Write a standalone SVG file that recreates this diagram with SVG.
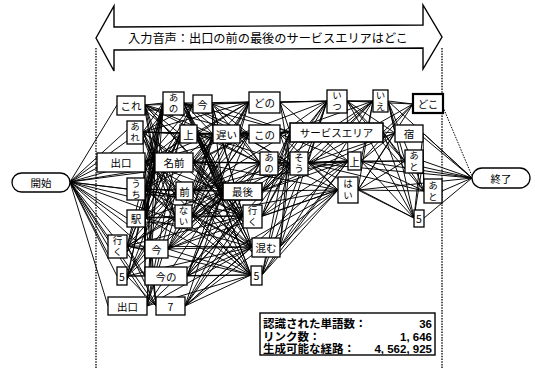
<svg xmlns="http://www.w3.org/2000/svg" width="535" height="372" viewBox="0 0 535 372">
<style>
.c{stroke:#000;stroke-width:0.95;fill:none}
.n rect{fill:#fff;stroke:#000;stroke-width:1.3}
.t{font-family:"Noto Sans CJK JP","Noto Sans CJK SC",sans-serif;font-size:10.5px;text-anchor:middle;dominant-baseline:central;fill:#000}
.v{font-size:9.5px;writing-mode:vertical-rl;letter-spacing:1.5px}
.d{stroke:#000;stroke-width:1.3;stroke-dasharray:1.5 1.2;fill:none}
.info{font-family:"Noto Sans CJK JP","Noto Sans CJK SC",sans-serif;font-size:11.5px;font-weight:bold;fill:#000}
.num{font-family:"Liberation Sans",sans-serif;font-size:11.5px;font-weight:bold;fill:#000;text-anchor:end}
</style>
<rect width="535" height="372" fill="#fff"/>
<g id="banner">
<path d="M96 38 L114 6 L114 27 L423 25 L423 5 L442 37 L423 69 L423 48 L114 50 L114 71 Z" fill="#fff" stroke="#000" stroke-width="1.4"/>
<text x="268" y="37.5" class="t" style="font-size:12.2px" textLength="280" lengthAdjust="spacing">入力音声：出口の前の最後のサービスエリアはどこ</text>
</g>
<g id="guides">
<line x1="96" y1="48" x2="96" y2="368" class="d"/>
<line x1="442" y1="48" x2="442" y2="368" class="d"/>
</g>
<g id="connectors" class="c">
<path d="M70 182L117 105M70 182L127 130M70 182L127 141M70 182L97 168M70 182L155 168M70 182L176 195M70 182L127 189M70 182L127 196M70 182L127 218M70 182L175 220M70 182L108 246M70 182L145 249M70 182L117 276M70 182L145 276M70 182L108 306M70 182L156 306M70 182L145 296M70 182L145 172M70 182L155 158M70 182L127 224M70 182L108 254"/>
<path d="M145 105L163 103M145 105L193 104M145 105L180 134M145 105L155 162M145 105L176 191M145 105L175 216M145 105L213 134M145 105L260 163M145 105L223 191M145 105L243 216M145 105L249 134M145 110L163 110M145 110L155 170M145 110L180 140"/>
<path d="M143 132L163 103M143 132L193 104M143 132L180 134M143 132L155 162M143 132L176 191M143 132L175 216M143 132L145 249M143 132L213 134M143 132L249 102M143 132L249 134M143 132L223 191M143 132L243 216M143 138L163 112M143 138L155 168M143 138L176 197"/>
<path d="M145 162L163 103M145 162L193 104M145 162L180 134M145 162L155 162M145 162L176 191M145 162L175 216M145 162L156 306M145 162L213 134M145 162L249 102M145 162L249 134M145 162L260 163M145 162L223 191M145 162L243 216M145 162L252 247M145 162L251 275M145 167L163 110M145 167L180 140M145 167L175 222M145 167L145 258"/>
<path d="M145 189L163 103M145 189L193 104M145 189L180 134M145 189L155 162M145 189L176 191M145 189L175 216M145 189L145 276M145 189L156 306M145 189L213 134M145 189L249 134M145 189L223 191M145 189L243 216M145 189L252 247M145 189L251 275M145 194L163 110M145 194L155 170M145 194L176 197M145 194L145 258"/>
<path d="M145 218L163 103M145 218L193 104M145 218L180 134M145 218L155 162M145 218L176 191M145 218L175 216M145 218L145 249M145 218L145 276M145 218L156 306M145 218L213 134M145 218L223 191M145 218L243 216M145 218L252 247M145 218L251 275M145 222L163 112M145 222L155 170M145 222L175 224"/>
<path d="M127 246L163 103M127 246L180 134M127 246L155 162M127 246L176 191M127 246L175 216M127 246L145 249M127 246L145 276M127 246L156 306M127 246L223 191M127 246L243 216M127 246L252 247M127 246L251 275M127 252L155 170M127 252L176 197"/>
<path d="M127 276L155 162M127 276L176 191M127 276L175 216M127 276L145 249M127 276L145 276M127 276L156 306M127 276L223 191M127 276L252 247M127 276L251 275M127 280L163 110M127 280L180 140"/>
<path d="M147 306L180 134M147 306L176 191M147 306L175 216M147 306L223 191M147 306L243 216M147 306L252 247M147 306L251 275M147 302L155 170M147 302L163 110"/>
<path d="M184 103L213 134M184 103L249 102M184 103L249 134M184 103L260 163M184 103L223 191M184 103L243 216M184 103L252 247M184 103L251 275M184 103L290 132M184 103L290 163M184 108L223 196M184 108L243 222"/>
<path d="M212 104L213 134M212 104L249 102M212 104L249 134M212 104L260 163M212 104L223 191M212 104L243 216M212 104L252 247M212 104L290 132M212 104L327 101"/>
<path d="M197 134L213 134M197 134L249 102M197 134L249 134M197 134L260 163M197 134L223 191M197 134L243 216M197 134L252 247M197 134L251 275M197 134L290 132M197 134L290 163M197 139L223 196M197 139L252 252"/>
<path d="M193 162L213 134M193 162L249 102M193 162L249 134M193 162L260 163M193 162L223 191M193 162L243 216M193 162L252 247M193 162L251 275M193 162L290 163M193 162L338 190M193 167L213 140M193 167L243 222"/>
<path d="M193 191L213 134M193 191L249 102M193 191L249 134M193 191L260 163M193 191L223 191M193 191L243 216M193 191L252 247M193 191L251 275M193 191L290 132M193 191L290 163M193 191L348 161M193 196L213 140M193 196L252 252"/>
<path d="M192 216L213 134M192 216L249 102M192 216L249 134M192 216L260 163M192 216L223 191M192 216L243 216M192 216L252 247M192 216L251 275M192 216L290 163M192 216L338 190M192 222L223 196M192 222L260 170"/>
<path d="M168 249L213 134M168 249L249 102M168 249L249 134M168 249L260 163M168 249L223 191M168 249L243 216M168 249L252 247M168 249L251 275M168 249L290 163M168 249L338 190"/>
<path d="M187 276L249 102M187 276L249 134M187 276L260 163M187 276L223 191M187 276L243 216M187 276L252 247M187 276L251 275M187 276L290 163M187 276L338 190"/>
<path d="M185 306L260 163M185 306L223 191M185 306L243 216M185 306L252 247M185 306L251 275M185 306L290 163M185 306L348 161M185 306L338 190"/>
<path d="M240 134L249 102M240 134L249 134M240 134L260 163M240 134L290 132M240 134L290 163M240 134L327 101"/>
<path d="M280 102L290 132M280 102L290 163M280 102L327 101M280 102L348 161M280 102L373 101"/>
<path d="M280 134L290 132M280 134L290 163M280 134L327 101M280 134L348 161M280 134L338 190M280 134L373 101"/>
<path d="M278 163L290 132M278 163L290 163M278 163L327 101M278 163L348 161M278 163L338 190M278 163L373 101"/>
<path d="M262 191L290 132M262 191L290 163M262 191L327 101M262 191L348 161M262 191L338 190M262 191L373 101M262 191L395 133"/>
<path d="M262 216L290 132M262 216L290 163M262 216L327 101M262 216L348 161M262 216L338 190M262 216L373 101"/>
<path d="M280 247L290 132M280 247L290 163M280 247L327 101M280 247L348 161M280 247L338 190"/>
<path d="M262 275L290 132M262 275L290 163M262 275L327 101M262 275L348 161M262 275L338 190M262 275L373 101"/>
<path d="M383 132L395 133M383 132L413 104M383 132L405 161M383 132L424 191M383 132L414 218"/>
<path d="M308 163L327 101M308 163L348 161M308 163L338 190M308 163L373 101M308 163L395 133M308 163L413 104M308 163L405 161M308 163L424 191M308 163L414 218M308 163L472 178"/>
<path d="M347 101L373 101M347 101L395 133M347 101L413 104M347 101L405 161M347 101L424 191M347 101L414 218M347 101L348 161"/>
<path d="M361 161L373 101M361 161L395 133M361 161L413 104M361 161L405 161M361 161L424 191M361 161L414 218M361 161L472 178"/>
<path d="M358 190L373 101M358 190L395 133M358 190L413 104M358 190L405 161M358 190L424 191M358 190L414 218M358 190L472 178"/>
<path d="M388 101L413 104M388 101L395 133M388 101L405 161M388 101L424 191M388 101L414 218M388 101L472 178"/>
<path d="M423 133L424 191M423 133L414 218M423 133L472 178M423 137L472 178"/>
<path d="M423 161L424 191M423 161L414 218M423 161L472 178M423 167L472 178"/>
<path d="M442 191L472 178M424 218L472 178"/>
<path d="M443 107L472 176" class="d" style="stroke-width:1"/>
</g>
<g id="n-start" class="n"><rect x="12" y="173" width="58" height="19" rx="9.5"/><text x="41" y="182.5" class="t">開始</text></g>
<g id="n-end" class="n"><rect x="472" y="168" width="58" height="20" rx="10"/><text x="501" y="178" class="t">終了</text></g>
<g id="n-kore" class="n"><rect x="117" y="96" width="28" height="19"/><text x="131" y="105.5" class="t">これ</text></g>
<g id="n-are" class="n"><rect x="127" y="121" width="16" height="23"/><text x="135" y="133" class="t v">あれ</text></g>
<g id="n-deguchi1" class="n"><rect x="97" y="153" width="48" height="19"/><text x="121" y="162.5" class="t">出口</text></g>
<g id="n-uchi" class="n"><rect x="127" y="178" width="18" height="22"/><text x="136" y="189.5" class="t v">うち</text></g>
<g id="n-eki" class="n"><rect x="127" y="210" width="18" height="17"/><text x="136" y="218.5" class="t">駅</text></g>
<g id="n-iku1" class="n"><rect x="108" y="235" width="19" height="23"/><text x="117.5" y="247" class="t v">行く</text></g>
<g id="n-5a" class="n"><rect x="117" y="267" width="10" height="18"/><text x="122" y="276" class="t">5</text></g>
<g id="n-deguchi2" class="n"><rect x="108" y="297" width="39" height="18"/><text x="127.5" y="306" class="t">出口</text></g>
<g id="n-ano1" class="n"><rect x="163" y="92" width="21" height="23"/><text x="173.5" y="104" class="t v">あの</text></g>
<g id="n-ima1" class="n"><rect x="193" y="95" width="19" height="18"/><text x="202.5" y="104" class="t">今</text></g>
<g id="n-ue1" class="n"><rect x="180" y="125" width="17" height="18"/><text x="188.5" y="134" class="t">上</text></g>
<g id="n-namae" class="n"><rect x="155" y="153" width="38" height="19"/><text x="174" y="162.5" class="t">名前</text></g>
<g id="n-mae" class="n"><rect x="176" y="182" width="17" height="18"/><text x="184.5" y="191" class="t">前</text></g>
<g id="n-nai" class="n"><rect x="175" y="205" width="17" height="23"/><text x="183.5" y="217" class="t v">ない</text></g>
<g id="n-ima2" class="n"><rect x="145" y="240" width="23" height="18"/><text x="156.5" y="249" class="t">今</text></g>
<g id="n-imano" class="n"><rect x="145" y="267" width="42" height="18"/><text x="166" y="276" class="t">今の</text></g>
<g id="n-7" class="n"><rect x="156" y="297" width="29" height="18"/><text x="170.5" y="306" class="t">7</text></g>
<g id="n-osoi" class="n"><rect x="213" y="125" width="27" height="18"/><text x="226.5" y="134" class="t">遅い</text></g>
<g id="n-dono" class="n"><rect x="249" y="92" width="31" height="21"/><text x="264.5" y="102.5" class="t">どの</text></g>
<g id="n-kono" class="n"><rect x="249" y="125" width="31" height="18"/><text x="264.5" y="134" class="t">この</text></g>
<g id="n-ano2" class="n"><rect x="260" y="152" width="18" height="23"/><text x="269" y="164" class="t v">あの</text></g>
<g id="n-saigo" class="n"><rect x="223" y="183" width="39" height="17" style="stroke-width:1.6"/><text x="242.5" y="191.5" class="t">最後</text></g>
<g id="n-iku2" class="n"><rect x="243" y="205" width="19" height="23"/><text x="252.5" y="217" class="t v">行く</text></g>
<g id="n-komu" class="n"><rect x="252" y="238" width="28" height="19"/><text x="266" y="247.5" class="t">混む</text></g>
<g id="n-5b" class="n"><rect x="251" y="266" width="11" height="19"/><text x="256.5" y="275.5" class="t">5</text></g>
<g id="n-sa" class="n"><rect x="290" y="123" width="93" height="19" style="stroke-width:1.6"/><text x="336.5" y="132.5" class="t">サービスエリア</text></g>
<g id="n-sou" class="n"><rect x="290" y="152" width="18" height="23"/><text x="299" y="164" class="t v">そう</text></g>
<g id="n-itsu" class="n"><rect x="327" y="90" width="20" height="23"/><text x="337" y="102" class="t v">いつ</text></g>
<g id="n-ue2" class="n"><rect x="348" y="152" width="13" height="18"/><text x="354.5" y="161" class="t">上</text></g>
<g id="n-hai" class="n"><rect x="338" y="177" width="20" height="26"/><text x="348" y="191" class="t v" style="letter-spacing:3px">はい</text></g>
<g id="n-ie" class="n"><rect x="373" y="90" width="15" height="22"/><text x="380.5" y="101.5" class="t v">いえ</text></g>
<g id="n-yado" class="n"><rect x="395" y="125" width="28" height="17"/><text x="409" y="133.5" class="t">宿</text></g>
<g id="n-doko" class="n"><rect x="413" y="94" width="30" height="19" style="stroke-width:2.2"/><text x="428" y="103.5" class="t">どこ</text></g>
<g id="n-ato1" class="n"><rect x="405" y="150" width="18" height="23"/><text x="414" y="162" class="t v">あと</text></g>
<g id="n-ato2" class="n"><rect x="424" y="179" width="18" height="24"/><text x="433" y="191.5" class="t v">あと</text></g>
<g id="n-5c" class="n"><rect x="414" y="210" width="10" height="17"/><text x="419" y="218.5" class="t">5</text></g>
<g id="info">
<rect x="260" y="313" width="175" height="42" fill="#fff" stroke="#000" stroke-width="1.4"/>
<text class="info"><tspan x="263" y="328">認識された単語数：</tspan><tspan x="263" y="340.5">リンク数：</tspan><tspan x="263" y="353">生成可能な経路：</tspan></text>
<text class="num"><tspan x="432" y="328">36</tspan><tspan x="432" y="340.5">1, 646</tspan><tspan x="432" y="353">4, 562, 925</tspan></text>
</g>
</svg>
